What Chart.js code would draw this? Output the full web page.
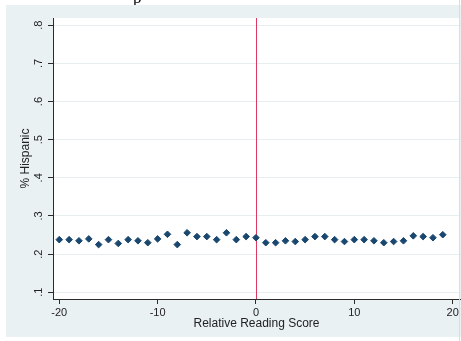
<!DOCTYPE html>
<html>
<head>
<meta charset="utf-8">
<script src="https://cdn.jsdelivr.net/npm/chart.js@4.4.0/dist/chart.umd.min.js"></script>
<style>
  html, body { margin: 0; padding: 0; background: #fff; }
  #wrap { position: relative; width: 461px; height: 341px; }
  #frag { position: absolute; left: 133px; top: 0; height: 5px; overflow: hidden; font-family: "Liberation Serif"; font-size: 17px; line-height: 17px; color: #000; }
  #frag span { display: block; margin-top: -11px; }
</style>
</head>
<body>
<div id="wrap">
  <canvas id="chart" width="461" height="341"></canvas>
  <div id="frag"><span>p</span></div>
</div>
<script>
const scores = [-20, -19, -18, -17, -16, -15, -14, -13, -12, -11, -10, -9, -8, -7, -6, -5, -4, -3, -2, -1,
                0, 1, 2, 3, 4, 5, 6, 7, 8, 9, 10, 11, 12, 13, 14, 15, 16, 17, 18, 19];
const pctHispanic = [0.238, 0.238, 0.235, 0.240, 0.225, 0.238, 0.228, 0.238, 0.235, 0.230,
                     0.240, 0.252, 0.225, 0.256, 0.246, 0.246, 0.238, 0.256, 0.238, 0.246,
                     0.243, 0.230, 0.230, 0.235, 0.233, 0.238, 0.246, 0.246, 0.238, 0.233,
                     0.238, 0.238, 0.235, 0.230, 0.233, 0.235, 0.248, 0.246, 0.243, 0.251];
const xTicks = [-20, -10, 0, 10, 20];
const yTicks = [0.1, 0.2, 0.3, 0.4, 0.5, 0.6, 0.7, 0.8];
const cutoff = 0;

const navy = '#1a476f';
const axisCol = '#2b2b2b';
const textCol = '#222';
const tickFont = { family: 'Liberation Sans', size: 11 };
const titleFont = { family: 'Liberation Sans', size: 12 };

const backdrop = {
    id: 'backdrop',
    beforeDraw(chart) {
        const c = chart.ctx;
        const a = chart.chartArea;
        c.save();
        c.fillStyle = '#ffffff';
        c.fillRect(0, 0, chart.width, chart.height);
        c.fillStyle = '#eaf1f3';
        c.fillRect(6, 5, chart.width - 6, 332);
        c.fillStyle = '#ffffff';
        c.fillRect(a.left, a.top, a.right - a.left, a.bottom - a.top);
        c.restore();
    },
    afterDraw(chart) {
        // faint edge of the cropped image on the right
        const c = chart.ctx;
        c.save();
        c.fillStyle = '#d9dedf';
        c.fillRect(459, 0, 1, chart.height);
        c.restore();
    }
};

const cutoffLine = {
    id: 'cutoffLine',
    beforeDatasetsDraw(chart) {
        const c = chart.ctx;
        const a = chart.chartArea;
        const x = Math.round(chart.scales.x.getPixelForValue(cutoff)) + 0.5;
        c.save();
        c.strokeStyle = '#dc3a63';
        c.lineWidth = 1;
        c.beginPath();
        c.moveTo(x, a.top);
        c.lineTo(x, a.bottom);
        c.stroke();
        c.restore();
    }
};

new Chart(document.getElementById('chart').getContext('2d'), {
    type: 'scatter',
    data: {
        datasets: [{
            label: '% Hispanic',
            data: scores.map((s, i) => ({ x: s, y: pctHispanic[i] })),
            pointStyle: 'rectRot',
            pointRadius: 3.3,
            pointBorderWidth: 1,
            backgroundColor: navy,
            borderColor: navy
        }]
    },
    options: {
        responsive: false,
        animation: false,
        layout: { autoPadding: false, padding: { left: 18, right: 1, top: 18, bottom: 10 } },
        plugins: {
            legend: { display: false },
            tooltip: { enabled: false }
        },
        scales: {
            x: {
                type: 'linear',
                min: -20.64,
                max: 20.75,
                afterBuildTicks: s => { s.ticks = xTicks.map(v => ({ value: v })); },
                afterFit: s => { s.height = 32; s.paddingLeft = 0; s.paddingRight = 0; },
                border: { color: axisCol, width: 1 },
                grid: { drawOnChartArea: false, tickColor: axisCol, tickLength: 5 },
                ticks: { font: tickFont, color: textCol, padding: 2, maxRotation: 0 },
                title: { display: true, text: 'Relative Reading Score', font: titleFont, color: textCol, padding: 0 }
            },
            y: {
                min: 0.0824,
                max: 0.819,
                afterBuildTicks: s => { s.ticks = yTicks.map(v => ({ value: v })); },
                afterFit: s => { s.width = 35; s.paddingTop = 0; s.paddingBottom = 0; },
                border: { color: axisCol, width: 1 },
                grid: { color: '#e6eef0', tickColor: axisCol, tickLength: 5 },
                ticks: {
                    font: tickFont, color: textCol, padding: 4,
                    minRotation: 90, maxRotation: 90, crossAlign: 'center',
                    callback: v => v.toFixed(1).replace(/^0/, '')
                },
                title: { display: true, text: '% Hispanic', font: titleFont, color: textCol, padding: 0 }
            }
        }
    },
    plugins: [backdrop, cutoffLine]
});
</script>
</body>
</html>
